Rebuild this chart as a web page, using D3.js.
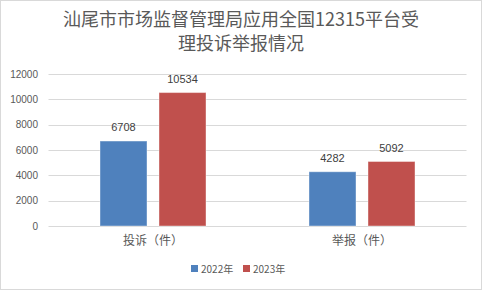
<!DOCTYPE html>
<html><head><meta charset="utf-8">
<script src="https://cdn.jsdelivr.net/npm/d3@7"></script>
<style>body{margin:0;background:#fff}svg{display:block}</style>
</head><body>
<script>
const categories = ["投诉（件）", "举报（件）"];
const seriesNames = ["2022年", "2023年"];
const values2022 = [6708, 4282];
const values2023 = [10534, 5092];
const yTicks = [0, 2000, 4000, 6000, 8000, 10000, 12000];
const colors = ["#4f81bd", "#c0504d"];

const W = 482, H = 290;
const svg = d3.select("body").append("svg").attr("width", W).attr("height", H);
svg.append("rect").attr("x", 0.5).attr("y", 0.5).attr("width", W - 1).attr("height", H - 1)
  .attr("fill", "#fff").attr("stroke", "#d9d9d9");

const font = "'Noto Sans CJK SC', 'Liberation Sans', sans-serif";
const title = svg.append("text").attr("text-anchor", "middle").attr("fill", "#595959")
  .attr("font-family", font).attr("font-size", 18);
title.append("tspan").attr("x", 241).attr("y", 26).text("汕尾市市场监督管理局应用全国12315平台受");
title.append("tspan").attr("x", 241).attr("y", 50).text("理投诉举报情况");

const x0 = d3.scaleBand().domain(categories).range([48.5, 466.5]).paddingInner(0).paddingOuter(0);
const y = d3.scaleLinear().domain([0, 12000]).range([226, 74]);

svg.append("g").selectAll("line").data(yTicks).join("line")
  .attr("x1", 48.5).attr("x2", 466.5)
  .attr("y1", d => Math.round(y(d)) + 0.5).attr("y2", d => Math.round(y(d)) + 0.5)
  .attr("stroke", "#d9d9d9").attr("stroke-width", 1);

const yAxis = d3.axisLeft(y).tickValues(yTicks).tickFormat(d3.format("d")).tickSize(0).tickPadding(0);
const gy = svg.append("g").attr("transform", "translate(38,0)").call(yAxis);
gy.select(".domain").remove();
gy.selectAll("text").attr("font-family", "'Liberation Sans', sans-serif").attr("font-size", 10).attr("fill", "#595959");

const data = [values2022, values2023];
const barW = 47, gap = 12;
const offsets = [-(gap / 2 + barW), gap / 2];
data.forEach((vals, si) => {
  const g = svg.append("g");
  g.selectAll("rect").data(vals).join("rect")
    .attr("x", (d, i) => x0(categories[i]) + x0.bandwidth() / 2 + offsets[si])
    .attr("y", d => y(d)).attr("width", barW).attr("height", d => y(0) - y(d))
    .attr("fill", colors[si]).attr("stroke", "#fff").attr("stroke-opacity", 0.4).attr("stroke-width", 1);
  g.selectAll("text").data(vals).join("text")
    .attr("x", (d, i) => x0(categories[i]) + x0.bandwidth() / 2 + offsets[si] + barW / 2)
    .attr("y", d => y(d) - 10).attr("text-anchor", "middle")
    .attr("font-family", "'Liberation Sans', sans-serif").attr("font-size", 11).attr("fill", "#404040")
    .text(d => d);
});

const xAxis = d3.axisBottom(x0).tickSize(0).tickPadding(0);
const gx = svg.append("g").attr("transform", "translate(0,245)").call(xAxis);
gx.select(".domain").remove();
gx.selectAll("text").attr("dy", 0).attr("font-family", font).attr("font-size", 12).attr("fill", "#595959");

const legend = svg.append("g");
const lx = [191, 243];
seriesNames.forEach((n, i) => {
  legend.append("rect").attr("x", lx[i]).attr("y", 265).attr("width", 7).attr("height", 7).attr("fill", colors[i]);
  legend.append("text").attr("x", lx[i] + 10).attr("y", 272.5).attr("font-family", font)
    .attr("font-size", 10).attr("fill", "#595959").text(n);
});
</script>
</body></html>
